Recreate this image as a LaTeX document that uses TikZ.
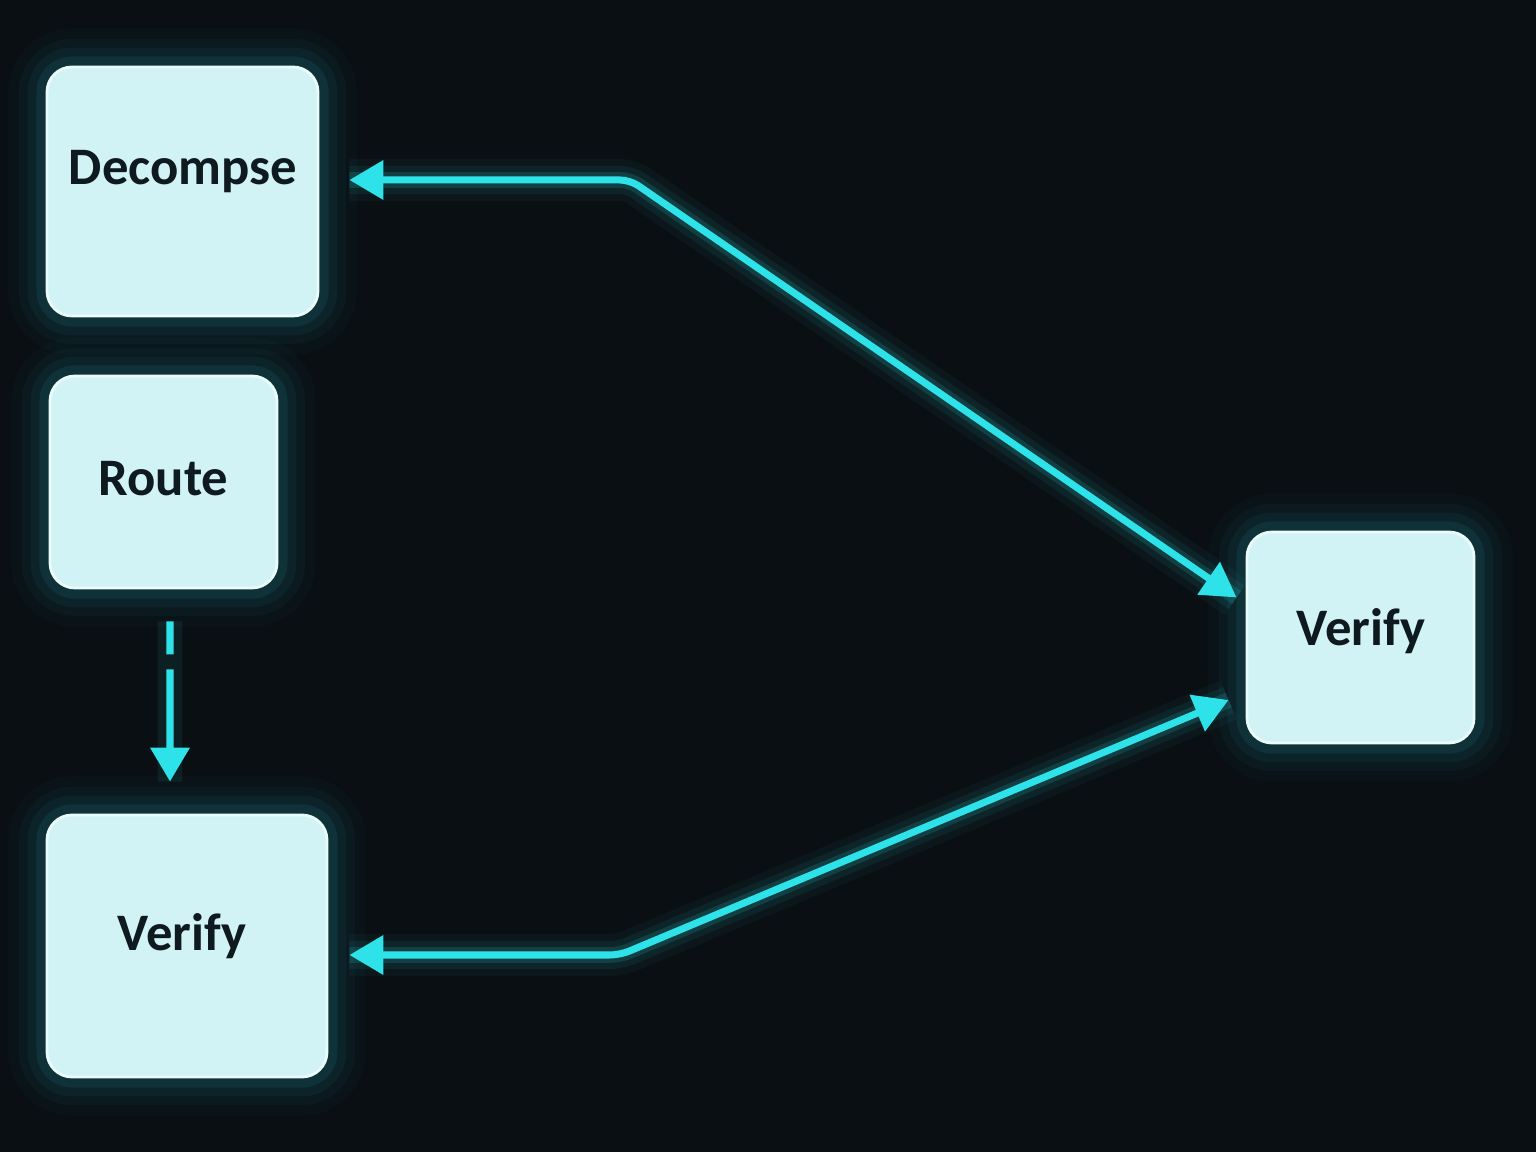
\documentclass[tikz,border=0pt]{standalone}
\usepackage{fontspec}
\setmainfont{Carlito}
\usetikzlibrary{arrows.meta}
\usetikzlibrary{positioning}

\definecolor{bgdark}{HTML}{0A0F13}
\definecolor{boxfill}{HTML}{D2F3F5}
\definecolor{boxline}{HTML}{EAFBFC}
\definecolor{flowcyan}{HTML}{2DE2E8}
\definecolor{txtdark}{HTML}{0E1A20}

\tikzset{
    stagebox/.style={rectangle, rounded corners=0.25cm, fill=boxfill, draw=boxline, line width=0.8pt,
        preaction={draw=flowcyan, line width=22pt, draw opacity=0.025},
        preaction={draw=flowcyan, line width=16pt, draw opacity=0.035},
        preaction={draw=flowcyan, line width=11pt, draw opacity=0.05},
        preaction={draw=flowcyan, line width=6pt, draw opacity=0.08}},
    stagelabel/.style={font=\fontsize{15}{18}\selectfont\bfseries, text=txtdark},
    flow/.style={draw=flowcyan, line width=2pt, rounded corners=0.1cm,
        {Triangle[length=3.4mm, width=3.8mm]}-{Triangle[length=3.4mm, width=3.8mm]},
        preaction={draw=flowcyan, line width=12pt, draw opacity=0.04, -},
        preaction={draw=flowcyan, line width=8pt, draw opacity=0.07, -},
        preaction={draw=flowcyan, line width=4.5pt, draw opacity=0.14, -}},
}

\begin{document}
\begin{tikzpicture}
        % background
        \fill[bgdark] (0,0) rectangle (15.36,11.52);
        \useasboundingbox (0,0) rectangle (15.36,11.52);

        % stages on the left
        \node[stagebox, minimum width=2.71cm, minimum height=2.49cm] (dec) at (1.825,9.605) {};
        \node[stagelabel] (declbl) at (1.83,9.80) {Decompse};

        \node[stagebox, minimum width=2.27cm, minimum height=2.12cm] (route) at (1.635,6.70) {};
        \node[stagelabel] (routelbl) at (1.635,6.73) {Route};

        \node[stagebox, minimum width=2.80cm, minimum height=2.62cm] (verL) at (1.87,2.06) {};
        \node[stagelabel] (verLlbl) at (1.82,2.16) {Verify};

        % stage on the right
        \node[stagebox, minimum width=2.27cm, minimum height=2.11cm] (verR) at (13.605,5.145) {};
        \node[stagelabel] (verRlbl) at (13.61,5.21) {Verify};

        % bends of the long connectors
        \coordinate (bendtop) at (6.30,9.72);
        \coordinate (bendbot) at (6.20,1.97);

        % connectors
        \draw[flow] ([shift={(-0.09,0.40)}]verR.west) -- (bendtop) -- ([shift={(0.30,0.115)}]dec.east);
        \draw[flow] ([shift={(-0.17,-0.625)}]verR.west) -- (bendbot) -- ([shift={(0.21,-0.09)}]verL.east);

        % dashed step down
        \draw[draw=flowcyan, line width=2pt, dash pattern=on 0.33cm off 0.15cm on 3cm,
            -{Triangle[length=3.4mm, width=3.8mm]},
            preaction={draw=flowcyan, line width=7pt, draw opacity=0.08, -}]
            ([shift={(0.065,-0.32)}]route.south) -- ([shift={(-0.17,0.32)}]verL.north);

    \end{tikzpicture}
\end{document}
